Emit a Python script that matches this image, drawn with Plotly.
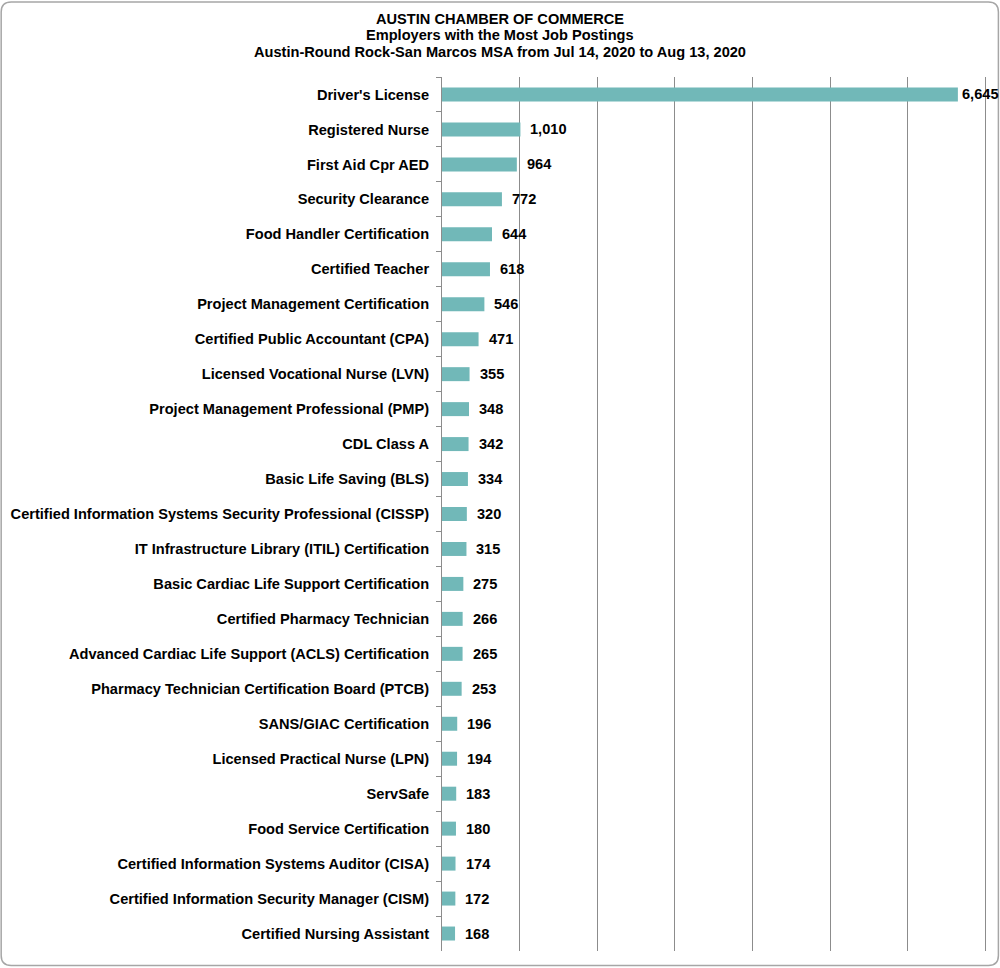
import plotly.graph_objects as go

categories = [
    "Driver's License", "Registered Nurse", "First Aid Cpr AED", "Security Clearance",
    "Food Handler Certification", "Certified Teacher", "Project Management Certification",
    "Certified Public Accountant (CPA)", "Licensed Vocational Nurse (LVN)",
    "Project Management Professional (PMP)", "CDL Class A", "Basic Life Saving (BLS)",
    "Certified Information Systems Security Professional (CISSP)",
    "IT Infrastructure Library (ITIL) Certification", "Basic Cardiac Life Support Certification",
    "Certified Pharmacy Technician", "Advanced Cardiac Life Support (ACLS) Certification",
    "Pharmacy Technician Certification Board (PTCB)", "SANS/GIAC Certification",
    "Licensed Practical Nurse (LPN)", "ServSafe", "Food Service Certification",
    "Certified Information Systems Auditor (CISA)", "Certified Information Security Manager (CISM)",
    "Certified Nursing Assistant",
]
values = [6645, 1010, 964, 772, 644, 618, 546, 471, 355, 348, 342, 334, 320, 315,
          275, 266, 265, 253, 196, 194, 183, 180, 174, 172, 168]

title_lines = [
    "AUSTIN CHAMBER OF COMMERCE",
    "Employers with the Most Job Postings",
    "Austin-Round Rock-San Marcos MSA from Jul 14, 2020 to Aug 13, 2020",
]

FONT = "Liberation Sans, Arial, sans-serif"
FS = 14.6
W, H = 1000, 968
ML, MR, MT, MB = 442, 13.4, 76.5, 16.5
PH = H - MT - MB
PW = W - ML - MR

fig = go.Figure()
fig.add_trace(go.Bar(
    x=values, y=categories, orientation="h",
    marker=dict(color="#71B8B8", line=dict(width=0)),
    width=0.4, hoverinfo="x+y",
))

annotations = []
vmax = max(values)
for c, v in zip(categories, values):
    annotations.append(dict(
        x=v, y=c, xref="x", yref="y", text=f"{v:,}", showarrow=False,
        xanchor="left", yanchor="middle", xshift=2 if v == vmax else 8,
        font=dict(family=FONT, size=FS, color="#000000", weight="bold"),
    ))

for line, py in zip(title_lines, [18, 34.5, 51]):
    annotations.append(dict(
        x=(500 - ML) / PW, y=(H - MB - py) / PH, xref="paper", yref="paper",
        text=line, showarrow=False, xanchor="center", yanchor="middle",
        font=dict(family=FONT, size=FS, color="#000000", weight="bold"),
    ))

# rounded outer border of the chart area
x0p, x1p = (1.5 - ML) / PW, (998 - ML) / PW
y0p, y1p = (H - MB - 966) / PH, (H - MB - 1.5) / PH
rx = 10 / PW
ry = 10 / PH
path = (f"M {x0p+rx} {y1p} L {x1p-rx} {y1p} Q {x1p} {y1p} {x1p} {y1p-ry} "
        f"L {x1p} {y0p+ry} Q {x1p} {y0p} {x1p-rx} {y0p} L {x0p+rx} {y0p} "
        f"Q {x0p} {y0p} {x0p} {y0p+ry} L {x0p} {y1p-ry} Q {x0p} {y1p} {x0p+rx} {y1p} Z")

fig.update_layout(
    width=W, height=H,
    margin=dict(l=ML, r=MR, t=MT, b=MB),
    paper_bgcolor="#FFFFFF", plot_bgcolor="#FFFFFF",
    showlegend=False,
    annotations=annotations,
    shapes=[dict(type="path", path=path, xref="paper", yref="paper",
                 line=dict(color="#A6A6A6", width=1.5), fillcolor="rgba(0,0,0,0)", layer="below")],
    xaxis=dict(range=[0, 7020], dtick=1000, showgrid=True, gridcolor="#8C8C8C", gridwidth=1,
               showticklabels=False, zeroline=False, showline=False, ticks=""),
    yaxis=dict(autorange="reversed", showgrid=False, showline=True, linecolor="#8C8C8C",
               linewidth=1, ticks="outside", tickson="boundaries", ticklen=5,
               tickcolor="#8C8C8C", ticklabelstandoff=9,
               tickfont=dict(family=FONT, size=FS, color="#000000", weight="bold")),
    bargap=0.6,
)

fig.write_html("out.html", config={"displayModeBar": False},
               post_script="document.body.style.margin='0';document.body.style.overflow='hidden';")
